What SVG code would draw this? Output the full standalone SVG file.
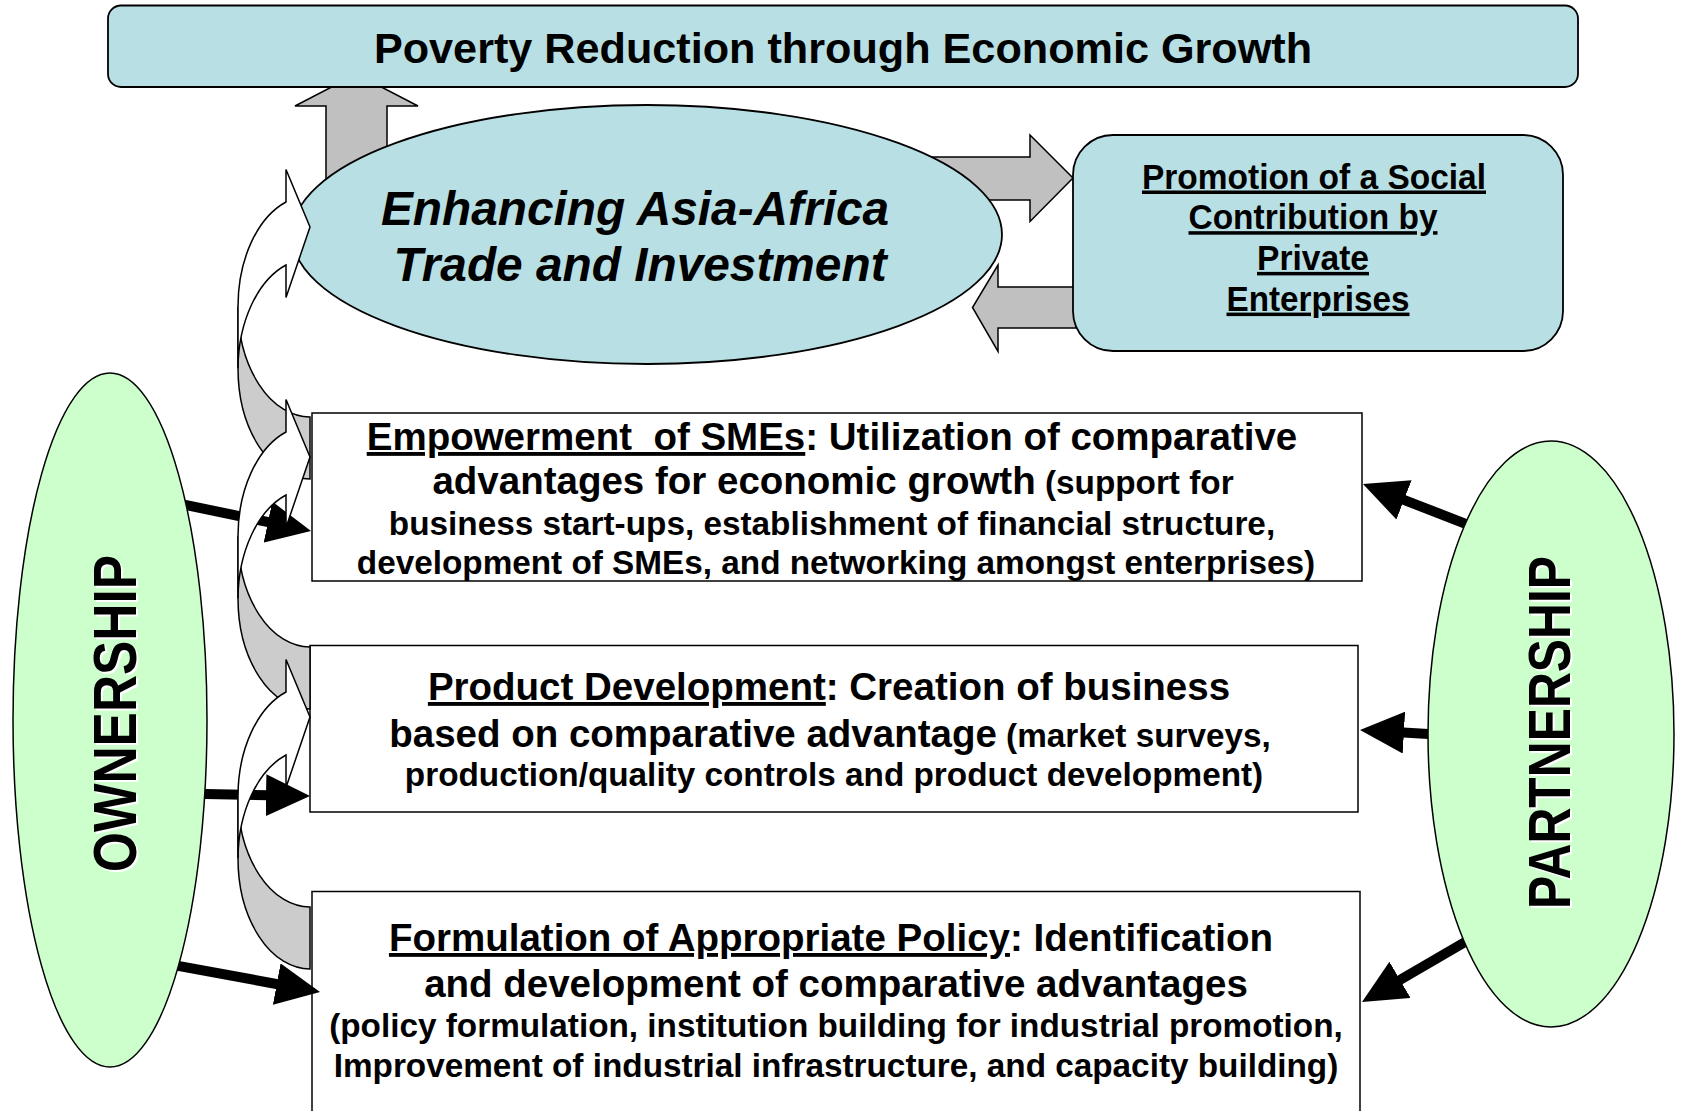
<svg xmlns="http://www.w3.org/2000/svg" width="1681" height="1111" viewBox="0 0 1681 1111">
  <style>
    text { font-family: "Liberation Sans", Arial, Helvetica, sans-serif; font-weight: bold; fill: #000; }
    .teal { fill: #b8dfe3; stroke: #000; stroke-width: 1.8; }
    .green { fill: #ccffcc; stroke: #000; stroke-width: 1.5; }
    .box { fill: #fff; stroke: #000; stroke-width: 1.5; }
    .block { fill: #c0c0c0; stroke: #000; stroke-width: 1.5; stroke-linejoin: miter; }
    .lg { font-size: 38.5px; }
    .sm { font-size: 33.3px; }
    .u { text-decoration: underline; }
    .link { stroke: #000; stroke-width: 10; fill: none; }
    .back { fill: #cccccc; stroke: #000; stroke-width: 1.5; }
    .front { fill: #fff; stroke: #000; stroke-width: 1.5; stroke-linejoin: miter; }
    .halo { fill: #fff; }
  </style>
  <defs>
    <marker id="head" markerUnits="userSpaceOnUse" markerWidth="44" markerHeight="42" refX="30" refY="21" orient="auto">
      <path d="M0,0 L44,21 L0,42 Z" fill="#000"/>
    </marker>
    <!-- curved ribbon arrow: shaded back half at the tail, white front half with the head -->
    <g id="curved">
      <path class="back" d="M310,417 A72 110.7 0 0 1 238,306.3 L238,368.3 A72 110.7 0 0 0 310,479 Z"/>
      <path class="front" d="M286,202 L286,169.5 L310,227 L286,297.5 L286,265 A72 110.7 0 0 0 238,368.3 L238,306.3 A72 110.7 0 0 1 286,202 Z"/>
    </g>
  </defs>

  <!-- wide grey block arrows -->
  <g id="block-arrows">
    <polygon class="block" points="326,200 326,106 295,106 356.5,74 418,106 387,106 387,200"/>
    <polygon class="block" points="900,157 1030,157 1030,135 1073,178 1030,221.5 1030,200 900,200"/>
    <polygon class="block" points="1090,287 998,287 998,265 972.5,307.5 998,351.5 998,328 1090,328"/>
  </g>

  <g id="goal">
    <rect class="teal" x="108" y="5.5" width="1470" height="81.5" rx="13"/>
    <text x="843" y="63" font-size="43.2" text-anchor="middle">Poverty Reduction through Economic Growth</text>
  </g>

  <g id="trade">
    <ellipse class="teal" cx="647" cy="234.5" rx="355" ry="129.5"/>
    <text x="635" y="225" font-size="47.8" font-style="italic" text-anchor="middle">Enhancing Asia-Africa</text>
    <text x="640" y="281" font-size="47.8" font-style="italic" text-anchor="middle">Trade and Investment</text>
  </g>

  <g id="social">
    <rect class="teal" x="1073" y="135" width="490" height="216" rx="40"/>
    <g class="u" font-size="35" text-anchor="middle">
      <text x="1314" y="188.5" textLength="344" lengthAdjust="spacingAndGlyphs">Promotion of a Social</text>
      <text x="1313" y="229.2" textLength="249" lengthAdjust="spacingAndGlyphs">Contribution by</text>
      <text x="1313" y="269.9" textLength="112" lengthAdjust="spacingAndGlyphs">Private</text>
      <text x="1318" y="310.6" textLength="183" lengthAdjust="spacingAndGlyphs">Enterprises</text>
    </g>
  </g>

  <g id="smes">
    <rect class="box" x="312" y="413" width="1050" height="168"/>
    <text class="lg" x="832" y="450" text-anchor="middle" xml:space="preserve"><tspan class="u">Empowerment  of SMEs</tspan>: Utilization of comparative</text>
    <text x="833" y="494" text-anchor="middle"><tspan class="lg">advantages for economic growth</tspan><tspan class="sm"> (support for</tspan></text>
    <text class="sm" x="832" y="535" text-anchor="middle">business start-ups, establishment of financial structure,</text>
    <text class="sm" x="836" y="574" text-anchor="middle">development of SMEs, and networking amongst enterprises)</text>
  </g>

  <g id="product">
    <rect class="box" x="310" y="645.5" width="1048" height="166.5"/>
    <text class="lg" x="829" y="700" text-anchor="middle"><tspan class="u">Product Development</tspan>: Creation of business</text>
    <text x="830" y="747" text-anchor="middle"><tspan class="lg">based on comparative advantage</tspan><tspan class="sm"> (market surveys,</tspan></text>
    <text class="sm" x="834" y="786" text-anchor="middle">production/quality controls and product development)</text>
  </g>

  <g id="policy">
    <rect class="box" x="312" y="891.5" width="1048" height="230"/>
    <text class="lg" x="831" y="951" text-anchor="middle"><tspan class="u">Formulation of Appropriate Policy</tspan>: Identification</text>
    <text class="lg" x="836" y="997" text-anchor="middle">and development of comparative advantages</text>
    <text class="sm" x="836" y="1037" text-anchor="middle">(policy formulation, institution building for industrial promotion,</text>
    <text class="sm" x="836" y="1077" text-anchor="middle">Improvement of industrial infrastructure, and capacity building)</text>
  </g>

  <!-- thick black links from the two pillars -->
  <g id="connectors">
    <line class="link" x1="174.3" y1="502.6" x2="297.3" y2="528.15" marker-end="url(#head)"/>
    <line class="link" x1="193" y1="793.8" x2="296" y2="795.73" marker-end="url(#head)"/>
    <line class="link" x1="167.2" y1="963.8" x2="306.23" y2="989.46" marker-end="url(#head)"/>
    <line class="link" x1="1477.2" y1="528.3" x2="1376.05" y2="489.07" marker-end="url(#head)"/>
    <line class="link" x1="1441" y1="734.7" x2="1373.98" y2="730.81" marker-end="url(#head)"/>
    <line class="link" x1="1475.4" y1="935.96" x2="1374.1" y2="994.95" marker-end="url(#head)"/>
  </g>

  <g id="ownership">
    <ellipse class="green" cx="110" cy="720" rx="97" ry="347"/>
    <g transform="translate(137.5,715.5) rotate(-90)">
      <text class="halo" x="0" y="0" font-size="62" text-anchor="middle" textLength="317" lengthAdjust="spacingAndGlyphs">OWNERSHIP</text>
    </g>
    <g transform="translate(135.5,713.5) rotate(-90)">
      <text x="0" y="0" font-size="62" text-anchor="middle" textLength="317" lengthAdjust="spacingAndGlyphs">OWNERSHIP</text>
    </g>
  </g>

  <g id="partnership">
    <ellipse class="green" cx="1551" cy="734" rx="123" ry="293"/>
    <g transform="translate(1572,734.5) rotate(-90)">
      <text class="halo" x="0" y="0" font-size="60" text-anchor="middle" textLength="353" lengthAdjust="spacingAndGlyphs">PARTNERSHIP</text>
    </g>
    <g transform="translate(1570,732.5) rotate(-90)">
      <text x="0" y="0" font-size="60" text-anchor="middle" textLength="353" lengthAdjust="spacingAndGlyphs">PARTNERSHIP</text>
    </g>
  </g>

  <!-- curved arrows stepping up from each box to the one above -->
  <g id="curved-arrows">
    <use href="#curved"/>
    <use href="#curved" transform="translate(0,230)"/>
    <use href="#curved" transform="translate(0,490)"/>
  </g>
</svg>
